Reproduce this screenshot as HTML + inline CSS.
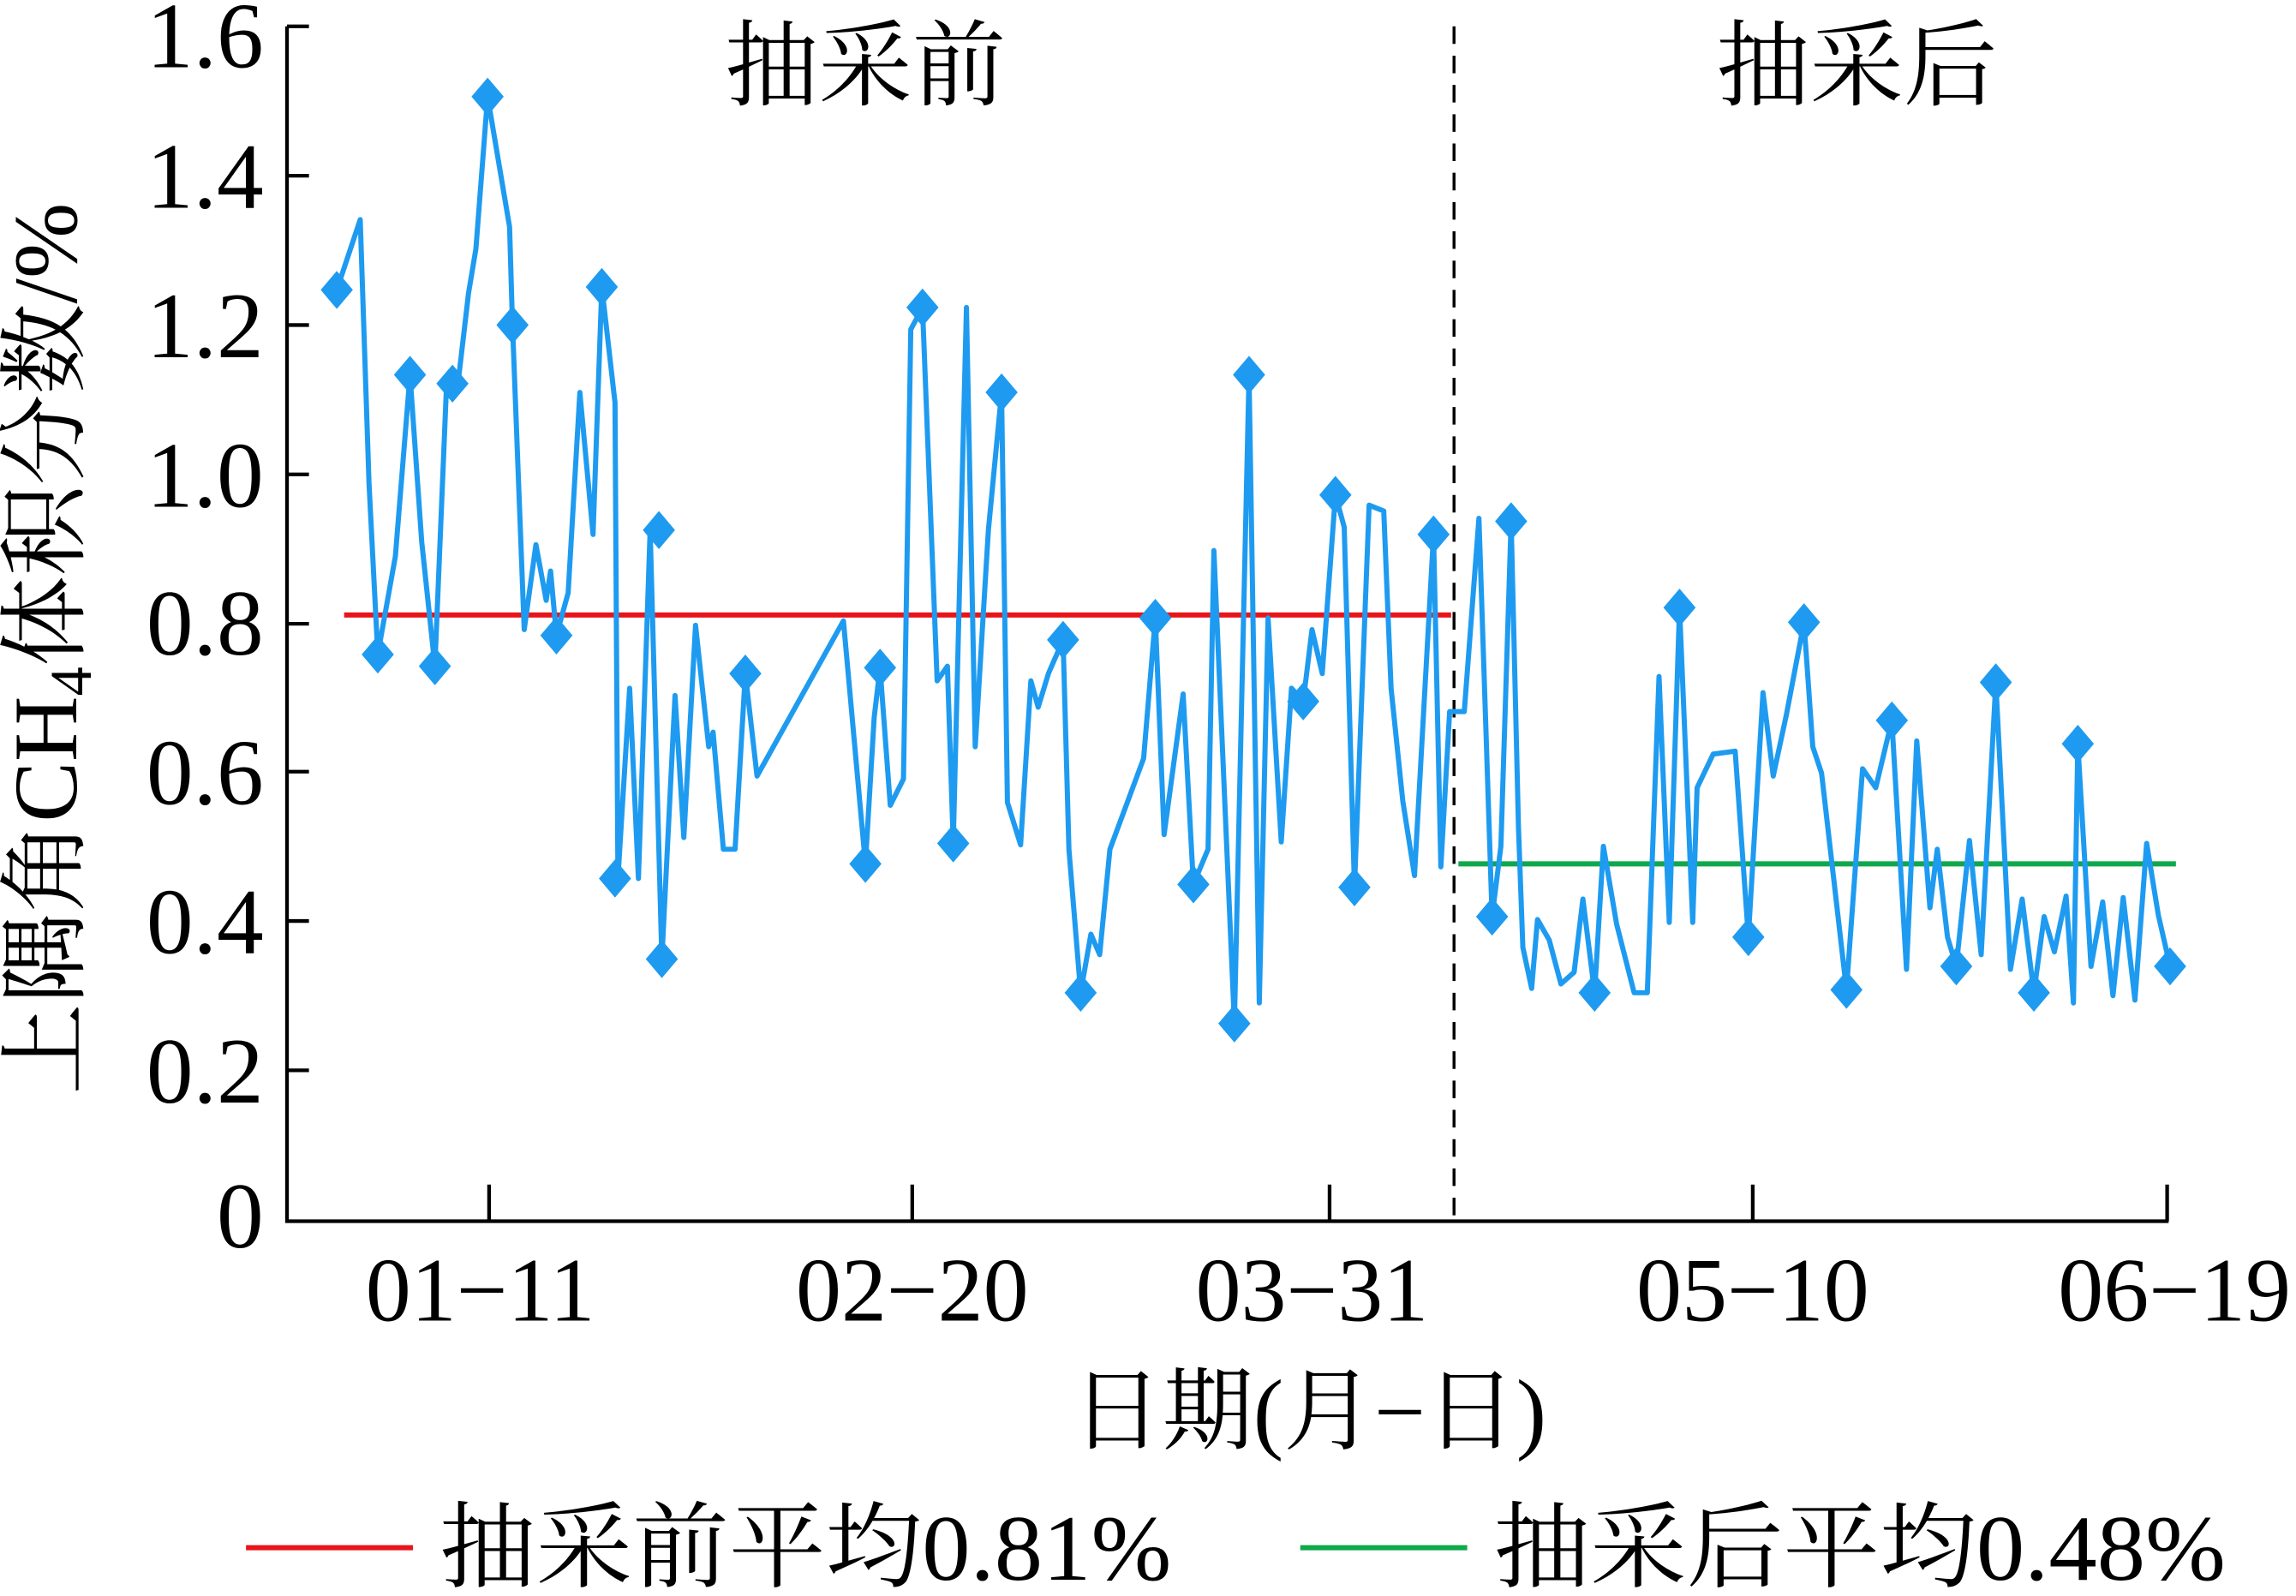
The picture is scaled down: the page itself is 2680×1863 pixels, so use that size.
<!DOCTYPE html>
<html><head><meta charset="utf-8"><style>html,body{margin:0;padding:0;background:#fff}svg{display:block}text{font-family:"Liberation Serif","Noto Serif CJK SC",serif;fill:#000}</style></head><body>
<svg width="2680" height="1863" viewBox="0 0 1568 1090" xmlns="http://www.w3.org/2000/svg">
<defs><path id="d" d="M0,-13 L11,0 L0,13 L-11,0Z" fill="#1e9bf0"/></defs>
<g stroke="#000" stroke-width="2.5" fill="none">
<path d="M196,18 L196,834 L1481,834"/>
<path d="M196,18h15M196,120h15M196,222h15M196,324h15M196,426h15M196,527h15M196,629h15M196,731h15"/>
<path d="M334,834v-25M623,834v-25M908,834v-25M1197,834v-25M1480,834v-25"/>
</g>
<line x1="993" y1="18" x2="993" y2="834" stroke="#000" stroke-width="2" stroke-dasharray="12,8"/>
<g font-size="64" text-anchor="end">
<text x="180" y="46">1.6</text><text x="180" y="142">1.4</text><text x="180" y="244">1.2</text><text x="180" y="346">1.0</text><text x="180" y="447">0.8</text><text x="180" y="549">0.6</text><text x="180" y="651">0.4</text><text x="180" y="753">0.2</text><text x="180" y="852">0</text>
</g>
<g font-size="62" text-anchor="middle">
<text x="328" y="902">01−11</text><text x="623" y="902">02−20</text><text x="896" y="902">03−31</text><text x="1197" y="902">05−10</text><text x="1485" y="902">06−19</text>
</g>
<text x="894" y="985" font-size="62" text-anchor="middle">日期(月−日)</text>
<g font-size="64" text-anchor="middle">
<text x="591" y="67">抽采前</text><text x="1268" y="67">抽采后</text>
</g>
<text transform="translate(52,443) rotate(-90)" font-size="62" text-anchor="middle">上隅角CH<tspan font-size="40" dy="10">4</tspan><tspan dy="-10">体积分数/%</tspan></text>
<line x1="235" y1="420" x2="991" y2="420" stroke="#e8141a" stroke-width="3.5"/>
<line x1="996" y1="590" x2="1486" y2="590" stroke="#0fa84a" stroke-width="3.5"/>
<polyline fill="none" stroke="#1e9bf0" stroke-width="3.5" stroke-linejoin="round" points="230,198 246,150 252,330 258,447 270,380 280,256 288,370 297,455 305,262 313,260 320,200 325,170 333,66 348,155 350,222 358,430 366,372 373,410 376,390 380,434 388,405 396,268 405,365 411,196 420,275 422,600 430,470 436,600 444,362 452,655 461,475 467,572 475,427 484,510 487,500 494,580 502,580 509,460 517,530 576,424 591,590 597,490 601,456 608,550 617,532 622,225 630,210 640,465 647,455 651,576 660,210 666,510 675,362 684,268 688,548 697,577 704,465 709,483 716,460 726,437 730,580 738,678 745,638 751,652 758,580 781,518 789,422 795,570 808,474 815,604 825,580 829,376 843,699 853,256 860,685 866,422 875,575 882,470 890,479 896,430 903,460 912,338 918,360 925,606 935,345 945,349 950,470 958,547 966,598 979,365 984,592 990,486 1000,486 1010,354 1019,626 1025,578 1032,356 1037,565 1040,647 1046,675 1050,628 1058,642 1066,672 1075,664 1081,614 1089,678 1095,578 1104,631 1116,678 1125,678 1133,462 1140,630 1147,415 1156,630 1159,538 1170,515 1185,513 1194,640 1204,473 1211,530 1220,488 1232,425 1238,510 1244,528 1261,676 1272,525 1281,538 1292,492 1302,662 1309,506 1318,620 1323,580 1330,640 1336,660 1345,574 1353,652 1363,466 1373,662 1381,614 1389,678 1396,626 1403,650 1411,612 1416,685 1419,508 1428,660 1436,616 1443,680 1450,613 1458,683 1466,576 1474,625 1482,660"/>
<g>
<use href="#d" x="230" y="198"/><use href="#d" x="258" y="447"/><use href="#d" x="280" y="256"/><use href="#d" x="297" y="455"/><use href="#d" x="309" y="262"/><use href="#d" x="333" y="66"/><use href="#d" x="350" y="222"/><use href="#d" x="380" y="434"/><use href="#d" x="411" y="196"/><use href="#d" x="420" y="600"/><use href="#d" x="450" y="362"/><use href="#d" x="452" y="655"/><use href="#d" x="509" y="460"/><use href="#d" x="591" y="590"/><use href="#d" x="601" y="456"/><use href="#d" x="630" y="210"/><use href="#d" x="651" y="576"/><use href="#d" x="684" y="268"/><use href="#d" x="726" y="437"/><use href="#d" x="738" y="678"/><use href="#d" x="789" y="422"/><use href="#d" x="815" y="604"/><use href="#d" x="843" y="699"/><use href="#d" x="853" y="256"/><use href="#d" x="890" y="479"/><use href="#d" x="912" y="338"/><use href="#d" x="925" y="606"/><use href="#d" x="979" y="365"/><use href="#d" x="1019" y="626"/><use href="#d" x="1032" y="356"/><use href="#d" x="1089" y="678"/><use href="#d" x="1147" y="415"/><use href="#d" x="1194" y="640"/><use href="#d" x="1232" y="425"/><use href="#d" x="1261" y="676"/><use href="#d" x="1292" y="492"/><use href="#d" x="1336" y="660"/><use href="#d" x="1363" y="466"/><use href="#d" x="1389" y="678"/><use href="#d" x="1419" y="508"/><use href="#d" x="1482" y="660"/>
</g>
<line x1="168" y1="1057" x2="282" y2="1057" stroke="#e8141a" stroke-width="3.5"/>
<line x1="888" y1="1057" x2="1002" y2="1057" stroke="#0fa84a" stroke-width="3.5"/>
<text x="300" y="1079" font-size="64" textLength="500" lengthAdjust="spacingAndGlyphs">抽采前平均0.81%</text>
<text x="1020" y="1079" font-size="64" textLength="500" lengthAdjust="spacingAndGlyphs">抽采后平均0.48%</text>
</svg>
</body></html>
